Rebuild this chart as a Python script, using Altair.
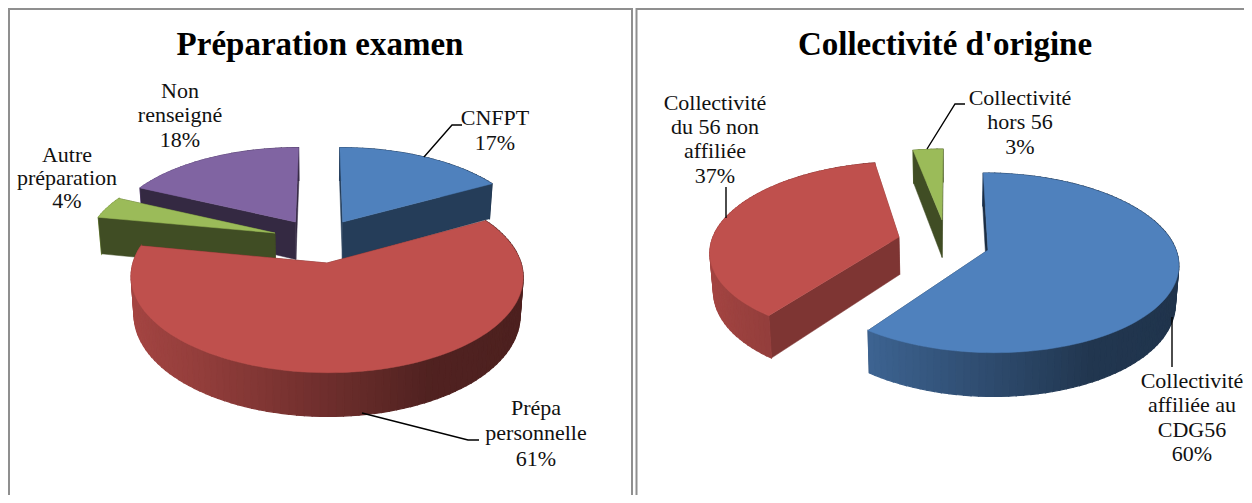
import math
import altair as alt

# ---- data
left_title = "Préparation examen"
left_shares = [17, 61, 4, 18]
left_names = ["CNFPT", "Prépa personnelle", "Autre préparation", "Non renseigné"]
right_title = "Collectivité d'origine"
right_shares = [60, 37, 3]
right_names = ["Collectivité affiliée au CDG56", "Collectivité du 56 non affiliée", "Collectivité hors 56"]

BLUE, RED, GREEN, PURPLE = "#4f81bd", "#bf504d", "#9bbb59", "#8064a2"
left_colors = [BLUE, RED, GREEN, PURPLE]
right_colors = [BLUE, RED, GREEN]

# ---- layout of the 3D drawing (reference px; page offset removed below)
OX, OY = 8, 8
W, H = 1236, 487
P = 0.143          # perspective strength
D0 = 37.5          # wall depth
K = 0.985          # bottom-face shrink


def shade(col, m):
    r, g, b = (int(col[i:i + 2], 16) for i in (1, 3, 5))
    return "#%02x%02x%02x" % (round(r * m), round(g * m), round(b * m))


def wall_mult(u):
    pts = [(-1, .87), (-.58, .77), (.1, .54), (.45, .42), (1, .40)]
    for (a, ma), (b, mb) in zip(pts, pts[1:]):
        if u <= b:
            return ma + (mb - ma) * (u - a) / (b - a)
    return pts[-1][1]


def top_pt(sl, vx, ang):
    u, v = math.cos(ang), math.sin(ang)
    s = 1 / (1 - P * v)
    return (vx + (sl["cx"] - vx + sl["rx"] * u) * s, sl["cy"] + sl["ry"] * v * s, s)


def bot_pt(pt, vx):
    x, y, s = pt
    return (vx + (x - vx) * K, y + D0 * s)


def feat(points, colour, width=0.5):
    ring = [[round(x - OX, 2), round(y - OY, 2)] for x, y in points]
    ring.append(ring[0])
    return {"type": "Feature", "properties": {"c": colour, "w": width},
            "geometry": {"type": "Polygon", "coordinates": [ring]}}


def slice_features(share, start, col, sl, vx):
    a0 = math.radians(start)
    a1 = math.radians(start + share * 3.6)
    n = max(2, int(abs(a1 - a0) / math.radians(2)))
    angs = [a0 + (a1 - a0) * i / n for i in range(n + 1)]
    rim = [top_pt(sl, vx, a) for a in angs]
    apex = (sl["cx"], sl["cy"], 1.0)
    walls = []
    for i in range(n):
        t0, t1 = rim[i], rim[i + 1]
        mid = (angs[i] + angs[i + 1]) / 2
        quad = [t0[:2], t1[:2], bot_pt(t1, vx), bot_pt(t0, vx)]
        walls.append((math.sin(mid), feat(quad, shade(col, wall_mult(math.cos(mid))), 1.2)))
    for t, a in ((rim[0], a0), (rim[-1], a1)):
        quad = [apex[:2], t[:2], bot_pt(t, vx), bot_pt(apex, vx)]
        walls.append((math.sin(a) * .5, feat(quad, shade(col, sl["cut"]))))
    walls.sort(key=lambda w: w[0])
    out = [w[1] for w in walls]
    out.append(feat([apex[:2]] + [r[:2] for r in rim], col))
    return out


left_layout = [
    dict(cx=342.7, cy=222, rx=184, ry=85, cut=.47),
    dict(cx=327, cy=263, rx=194, ry=94, cut=.50),
    dict(cx=275, cy=233, rx=186, ry=86, cut=.41),
    dict(cx=295.5, cy=222, rx=184, ry=85, cut=.41),
]
right_layout = [
    dict(cx=988, cy=250, rx=188, ry=88, cut=.36),
    dict(cx=899, cy=237, rx=186, ry=86, cut=.66),
    dict(cx=942, cy=220, rx=182, ry=81, cut=.41),
]

features = [feat([(OX, OY), (OX + W, OY), (OX + W, OY + H), (OX, OY + H)], "#ffffff")]


def pie(shares, colors, layout, vx, order):
    res = {}
    a = -90
    for i, sh in enumerate(shares):
        res[i] = slice_features(sh, a, colors[i], layout[i], vx)
        a += sh * 3.6
    out = []
    for i in order:
        out += res[i]
    return out


features += pie(left_shares, left_colors, left_layout, 320, [3, 0, 2, 1])
features += pie(right_shares, right_colors, right_layout, 950, [2, 1, 0])


def path(points):
    return {"type": "Feature", "properties": {},
            "geometry": {"type": "LineString",
                         "coordinates": [[x - OX, y - OY] for x, y in points]}}


frames = [
    path([(OX + 1, OY + H), (OX + 1, OY + 1), (632, OY + 1), (632, OY + H)]),
    path([(636.5, OY + H), (636.5, OY + 1), (OX + W, OY + 1)]),
]
leaders = [
    path([(424, 157), (452, 125), (462, 125)]),
    path([(362, 413), (468, 440), (479, 440)]),
    path([(927, 149), (955, 104), (965, 104)]),
    path([(726, 218), (726, 187)]),
    path([(1172, 317), (1172, 367)]),
]

# (text, centre x, centre y)
label_rows = [
    ("CNFPT", 495, 118), ("17%", 495, 143),
    ("Prépa", 536, 408), ("personnelle", 536, 433), ("61%", 536, 459),
    ("Autre", 67, 155), ("préparation", 67, 178), ("4%", 67, 201),
    ("Non", 180, 91), ("renseigné", 180, 115), ("18%", 180, 140),
    ("Collectivité", 715, 103), ("du 56 non", 715, 127), ("affiliée", 715, 151), ("37%", 715, 176),
    ("Collectivité", 1020, 98), ("hors 56", 1020, 122), ("3%", 1020, 147),
    ("Collectivité", 1192, 381), ("affiliée au", 1192, 405), ("CDG56", 1192, 430), ("60%", 1192, 454),
]
title_rows = [(left_title, 320, 45), (right_title, 945, 45)]

proj = alt.Projection(type="identity")
X = alt.X("x:Q", scale=None, axis=None)
Y = alt.Y("y:Q", scale=None, axis=None)

shapes = alt.Chart(alt.InlineData(values=features)).mark_geoshape().encode(
    fill=alt.Fill("properties.c:N", scale=None, legend=None),
    stroke=alt.Stroke("properties.c:N", scale=None, legend=None),
    strokeWidth=alt.StrokeWidth("properties.w:Q", scale=None, legend=None),
).project(**proj.to_dict())

frame_lines = alt.Chart(alt.InlineData(values=frames)).mark_geoshape(
    filled=False, stroke="#8f8f8f", strokeWidth=2).project(**proj.to_dict())
leader_lines = alt.Chart(alt.InlineData(values=leaders)).mark_geoshape(
    filled=False, stroke="#000000", strokeWidth=1.4).project(**proj.to_dict())

labels = alt.Chart(alt.InlineData(values=[
    {"t": t, "x": x - OX, "y": y - OY} for t, x, y in label_rows
])).mark_text(font="Liberation Serif", fontSize=22, color="#111111", baseline="middle", align="center").encode(
    x=X, y=Y, text="t:N")

titles = alt.Chart(alt.InlineData(values=[
    {"t": t, "x": x - OX, "y": y - OY} for t, x, y in title_rows
])).mark_text(font="Liberation Serif", fontSize=33, fontWeight="bold", color="#000000",
              baseline="middle", align="center").encode(x=X, y=Y, text="t:N")

chart = alt.layer(shapes, frame_lines, leader_lines, labels, titles).properties(
    width=W, height=H, padding=0, autosize=alt.AutoSizeParams(type="none"),
    background="#ffffff",
).configure_view(stroke=None)

chart.save("out.html", embed_options={"renderer": "svg", "actions": False})
